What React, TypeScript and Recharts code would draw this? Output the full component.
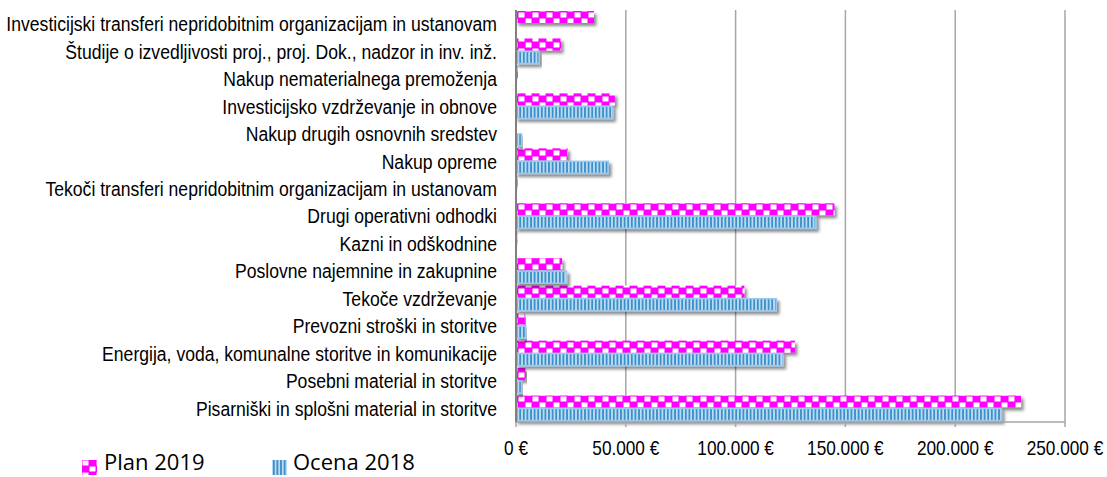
import { BarChart, Bar, XAxis, YAxis, CartesianGrid, Legend } from "recharts";

const categories = [
  "Investicijski transferi nepridobitnim organizacijam in ustanovam",
  "Študije o izvedljivosti proj., proj. Dok., nadzor in inv. inž.",
  "Nakup nematerialnega premoženja",
  "Investicijsko vzdrževanje in obnove",
  "Nakup drugih osnovnih sredstev",
  "Nakup opreme",
  "Tekoči transferi nepridobitnim organizacijam in ustanovam",
  "Drugi operativni odhodki",
  "Kazni in odškodnine",
  "Poslovne najemnine in zakupnine",
  "Tekoče vzdrževanje",
  "Prevozni stroški in storitve",
  "Energija, voda, komunalne storitve in komunikacije",
  "Posebni material in storitve",
  "Pisarniški in splošni material in storitve",
];

const plan2019 = [35500, 20500, 800, 45000, 0, 23500, 700, 145000, 600, 21000, 104000, 4000, 127000, 4500, 230000];
const ocena2018 = [0, 10500, 400, 44000, 2500, 42000, 300, 136500, 300, 23000, 118500, 4400, 121500, 2500, 221000];

const xTicks = [0, 50000, 100000, 150000, 200000, 250000];

const data = categories.map((name, i) => ({ name, plan: plan2019[i], ocena: ocena2018[i] }));

// no Arial Narrow in the sandbox, so squeeze Liberation Sans instead
const FONT = "'Liberation Sans', Arial, sans-serif";
const MAGENTA = "#ff00ff";
const STRIPE_DARK = "#2f86c4";
const STRIPE_LIGHT = "#b9dbf3";
const OCENA_EDGE = "#9cc8ee";
const GRID = "#a6a6a6";

const formatEuro = (v: number) => String(v).replace(/\B(?=(\d{3})+(?!\d))/g, ".") + " €";

const CategoryTick = (props: any) => {
  const { x, y, payload } = props;
  return (
    <g transform={`translate(${x},${y}) scale(0.838,1)`}>
      <text x={0} y={0} dy="0.355em" textAnchor="end" fill="#000" fontSize={21} fontFamily={FONT}>
        {payload.value}
      </text>
    </g>
  );
};

const EuroTick = (props: any) => {
  const { x, y, payload } = props;
  return (
    <g transform={`translate(${x},${y}) scale(0.82,1)`}>
      <text x={0} y={0} dy="0.71em" textAnchor="middle" fill="#000" fontSize={21} fontFamily={FONT}>
        {formatEuro(payload.value)}
      </text>
    </g>
  );
};

const PlanPattern = ({ id }: { id: string }) => (
  <pattern id={id} width="14" height="12" patternUnits="userSpaceOnUse">
    <rect width="14" height="12" fill={MAGENTA} />
    <rect x="0.5" y="0.5" width="6" height="5" fill="#ffffff" />
    <rect x="7.5" y="6.5" width="6" height="5" fill="#ffffff" />
  </pattern>
);

const OcenaPattern = ({ id }: { id: string }) => (
  <pattern id={id} width="3.6" height="4" patternUnits="userSpaceOnUse">
    <rect width="3.6" height="4" fill={STRIPE_LIGHT} />
    <rect x="1" width="1.6" height="4" fill={STRIPE_DARK} />
  </pattern>
);

const PlanShape = (props: any) => {
  const { x, y, width, height } = props;
  if (!width || width <= 0) return null;
  return <rect x={x} y={y} width={width} height={height} fill="url(#planPattern)" filter="url(#barShadow)" />;
};

const OcenaShape = (props: any) => {
  const { x, y, width, height } = props;
  if (!width || width <= 0) return null;
  return (
    <rect
      x={x}
      y={y}
      width={width}
      height={height}
      fill="url(#ocenaPattern)"
      stroke={OCENA_EDGE}
      strokeWidth={1.5}
      filter="url(#barShadow)"
    />
  );
};

const renderLegend = () => (
  <div
    style={{
      display: "flex",
      alignItems: "flex-start",
      fontFamily: "'Open Sans', 'Noto Sans', sans-serif",
      fontSize: 22,
      lineHeight: "22px",
      color: "#000",
      whiteSpace: "nowrap",
    }}
  >
    <div style={{ display: "flex", width: 190 }}>
      <svg width={15} height={15} style={{ marginTop: 10, marginRight: 7 }}>
        <defs>
          <PlanPattern id="legendPlan" />
        </defs>
        <rect width={15} height={15} fill="url(#legendPlan)" />
      </svg>
      <span>Plan 2019</span>
    </div>
    <div style={{ display: "flex" }}>
      <svg width={15} height={15} style={{ marginTop: 10, marginRight: 6 }}>
        <defs>
          <OcenaPattern id="legendOcena" />
        </defs>
        <rect width={15} height={15} fill="url(#legendOcena)" />
      </svg>
      <span>Ocena 2018</span>
    </div>
  </div>
);

export default function App() {
  return (
    <div style={{ position: "absolute", left: 0, top: 0, background: "#fff" }}>
      <BarChart
        width={1107}
        height={477}
        data={data}
        layout="vertical"
        margin={{ top: 10, right: 42, bottom: 0, left: 0 }}
        barCategoryGap={1}
        barGap={1}
      >
        <defs>
          <PlanPattern id="planPattern" />
          <OcenaPattern id="ocenaPattern" />
          <filter id="barShadow" x="-5%" y="-40%" width="115%" height="200%">
            <feDropShadow dx="2.5" dy="3" stdDeviation="1.6" floodColor="#000" floodOpacity="0.45" />
          </filter>
        </defs>
        <CartesianGrid horizontal={false} stroke={GRID} strokeWidth={1.5} />
        <XAxis
          type="number"
          domain={[0, 250000]}
          ticks={xTicks}
          axisLine={{ stroke: GRID, strokeWidth: 1.5 }}
          tickLine={{ stroke: GRID, strokeWidth: 1.5 }}
          tickSize={5}
          tickMargin={13}
          height={55}
          tick={EuroTick}
        />
        <YAxis
          type="category"
          dataKey="name"
          width={516}
          interval={0}
          tickLine={false}
          tickSize={0}
          tickMargin={19}
          axisLine={{ stroke: "#808080", strokeWidth: 2 }}
          tick={CategoryTick}
        />
        <Bar dataKey="plan" name="Plan 2019" fill={MAGENTA} shape={PlanShape} isAnimationActive={false} />
        <Bar dataKey="ocena" name="Ocena 2018" fill={STRIPE_DARK} shape={OcenaShape} isAnimationActive={false} />
        <Legend
          layout="horizontal"
          verticalAlign="middle"
          align="center"
          content={renderLegend}
          wrapperStyle={{ position: "absolute", left: 82, top: 450, width: 400, height: 22 }}
        />
      </BarChart>
    </div>
  );
}
